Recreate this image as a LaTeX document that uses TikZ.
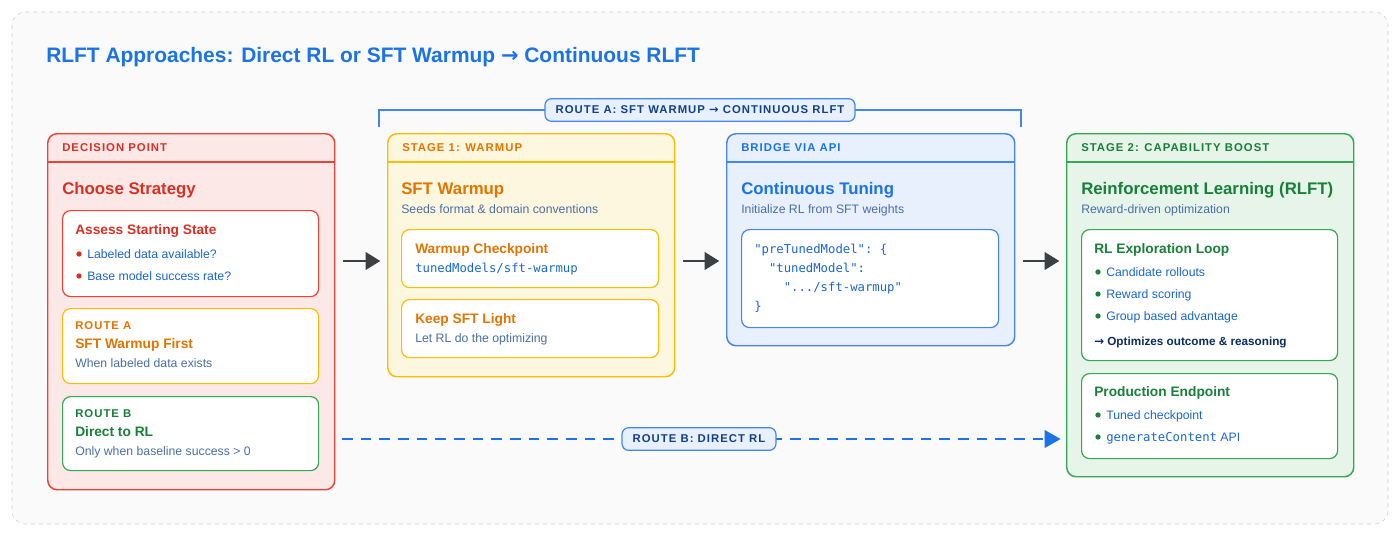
\documentclass[tikz,border=0pt]{standalone}
\usepackage{fontspec}
\setmainfont{Liberation Sans}
\setmonofont{DejaVu Sans Mono}
\newfontfamily\arwfont{DejaVu Sans}
\newcommand{\myarw}{{\arwfont →}}
\usetikzlibrary{arrows.meta}
\definecolor{cred}{HTML}{D93025}\definecolor{fred}{HTML}{FCE8E6}\definecolor{bred}{HTML}{EA4335}
\definecolor{corg}{HTML}{E37400}\definecolor{forg}{HTML}{FEF7E0}\definecolor{borg}{HTML}{FBBC04}
\definecolor{cblu}{HTML}{1A73E8}\definecolor{fblu}{HTML}{E8F0FE}\definecolor{bblu}{HTML}{4285F4}
\definecolor{cgrn}{HTML}{188038}\definecolor{fgrn}{HTML}{E6F4EA}\definecolor{bgrn}{HTML}{34A853}
\definecolor{body}{HTML}{1967D2}\definecolor{sub}{HTML}{4A6FA5}\definecolor{arr}{HTML}{3C4043}
\definecolor{navy}{HTML}{0D2B5E}
\begin{document}
\begin{tikzpicture}[x=0.75pt,y=-0.75pt,
  every node/.append style={inner sep=0pt},
  box/.style={draw=#1,line width=1.1pt,rounded corners=7pt,anchor=north west},
  inbox/.style={draw=#1,fill=white,line width=0.9pt,rounded corners=6pt,anchor=north west},
  hdr/.style={anchor=base west,text=#1,font=\fontsize{8.5}{10}\selectfont\bfseries\addfontfeatures{LetterSpace=9}},
  big/.style={anchor=base west,text=#1,font=\fontsize{12.6}{15}\selectfont\bfseries},
  ttl/.style={anchor=base west,text=#1,font=\fontsize{10.3}{12}\selectfont\bfseries},
  txt/.style={anchor=base west,text=#1,font=\fontsize{9.2}{11}\selectfont},
  mono/.style={anchor=base west,text=#1,font=\fontsize{9.2}{11}\ttfamily},
  flow/.style={-{Triangle[length=11pt,width=13pt]},line width=2pt,draw=arr},
  tag/.style={draw=bblu,fill=fblu,line width=0.9pt,rounded corners=5pt,text=navy!70!cblu,inner xsep=8pt,minimum height=17pt,font=\fontsize{8.5}{10}\selectfont\bfseries\addfontfeatures{LetterSpace=9}}]
\useasboundingbox (0,0) rectangle (1400,536);
\draw[draw=black!20,dashed,fill=black!2,rounded corners=10pt] (12,12) rectangle (1388,524);
\node[anchor=base west,text=cblu,font=\fontsize{15.7}{19}\selectfont\bfseries] (title) at (46,62) {RLFT Approaches: Direct RL or SFT Warmup \myarw{} Continuous RLFT};
% Decision
\node[box=bred,fill=fred,minimum width=287*0.75pt,minimum height=356*0.75pt] (dec) at (47,133) {};
\draw[bred,line width=0.9pt] (47,162) -- (334,162);
\node[hdr=cred] (dech) at (62,151) {DECISION POINT};
\node[big=cred] (dect) at (62,194) {Choose Strategy};
\node[inbox=bred,minimum width=256*0.75pt,minimum height=86*0.75pt] (ass) at (62,210) {};
\node[ttl=cred] (asst) at (75,234) {Assess Starting State};
\fill[cred] (79,254) circle (2pt); \node[txt=body] (a1) at (87,258) {Labeled data available?};
\fill[cred] (79,276) circle (2pt); \node[txt=body] (a2) at (87,280) {Base model success rate?};
\node[inbox=borg,minimum width=256*0.75pt,minimum height=75*0.75pt] (ra) at (62,308) {};
\node[hdr=corg] (rah) at (75,329) {ROUTE A};
\node[ttl=corg] (rat) at (75,348) {SFT Warmup First};
\node[txt=sub] (ras) at (75,367) {When labeled data exists};
\node[inbox=bgrn,minimum width=256*0.75pt,minimum height=74*0.75pt] (rb) at (62,396) {};
\node[hdr=cgrn] (rbh) at (75,417) {ROUTE B};
\node[ttl=cgrn] (rbt) at (75,436) {Direct to RL};
\node[txt=sub] (rbs) at (75,455) {Only when baseline success > 0};
% Stage 1
\node[box=borg,fill=forg,minimum width=287*0.75pt,minimum height=243*0.75pt] (s1) at (387,133) {};
\draw[borg,line width=0.9pt] (387,162) -- (674,162);
\node[hdr=corg] (s1h) at (402,151) {STAGE 1: WARMUP};
\node[big=corg] (s1t) at (401,194) {SFT Warmup};
\node[txt=sub] (s1s) at (401,213) {Seeds format \& domain conventions};
\node[inbox=borg,minimum width=257*0.75pt,minimum height=58*0.75pt] (wc) at (401,229) {};
\node[ttl=corg] (wct) at (415,253) {Warmup Checkpoint};
\node[mono=body] (wcc) at (415,272) {tunedModels/sft-warmup};
\node[inbox=borg,minimum width=257*0.75pt,minimum height=58*0.75pt] (ks) at (401,299) {};
\node[ttl=corg] (kst) at (415,323) {Keep SFT Light};
\node[txt=sub] (kss) at (415,342) {Let RL do the optimizing};
% Bridge
\node[box=bblu,fill=fblu,minimum width=288*0.75pt,minimum height=212*0.75pt] (br) at (726,133) {};
\draw[bblu,line width=0.9pt] (726,162) -- (1014,162);
\node[hdr=cblu] (brh) at (741,151) {BRIDGE VIA API};
\node[big=cblu] (brt) at (741,194) {Continuous Tuning};
\node[txt=sub] (brs) at (741,213) {Initialize RL from SFT weights};
\node[inbox=bblu,minimum width=257*0.75pt,minimum height=98*0.75pt] (code) at (741,229) {};
\node[mono=body] (c1) at (754,253) {"preTunedModel": \{};
\node[mono=body] (c2) at (754,272) {\ \ "tunedModel":};
\node[mono=body] (c3) at (754,291) {\ \ \ \ ".../sft-warmup"};
\node[mono=body] (c4) at (754,310) {\}};
% Stage 2
\node[box=bgrn,fill=fgrn,minimum width=287*0.75pt,minimum height=343*0.75pt] (s2) at (1066,133) {};
\draw[bgrn,line width=0.9pt] (1066,162) -- (1353,162);
\node[hdr=cgrn] (s2h) at (1081,151) {STAGE 2: CAPABILITY BOOST};
\node[big=cgrn] (s2t) at (1081,194) {Reinforcement Learning (RLFT)};
\node[txt=sub] (s2s) at (1081,213) {Reward-driven optimization};
\node[inbox=bgrn,minimum width=256*0.75pt,minimum height=131*0.75pt] (loop) at (1081,229) {};
\node[ttl=cgrn] (lt) at (1094,253) {RL Exploration Loop};
\fill[cgrn] (1098,272) circle (2pt); \node[txt=body] (l1) at (1106,276) {Candidate rollouts};
\fill[cgrn] (1098,294) circle (2pt); \node[txt=body] (l2) at (1106,298) {Reward scoring};
\fill[cgrn] (1098,316) circle (2pt); \node[txt=body] (l3) at (1106,320) {Group based advantage};
\node[anchor=base west,text=navy,font=\fontsize{8.8}{11}\selectfont\bfseries] (l4) at (1094,345) {\myarw{} Optimizes outcome \& reasoning};
\node[inbox=bgrn,minimum width=256*0.75pt,minimum height=85*0.75pt] (prod) at (1081,373) {};
\node[ttl=cgrn] (pt) at (1094,396) {Production Endpoint};
\fill[cgrn] (1098,415) circle (2pt); \node[txt=body] (p1) at (1106,419) {Tuned checkpoint};
\fill[cgrn] (1098,437) circle (2pt); \node[txt=body] (p2) at (1106,441) {\texttt{generateContent} API};
% arrows
\draw[flow] ([xshift=6pt,yshift=-96pt]dec.north east) -- ([xshift=-5pt,yshift=-96pt]s1.north west);
\draw[flow] ([xshift=6pt,yshift=-96pt]s1.north east) -- ([xshift=-5pt,yshift=-96pt]br.north west);
\draw[flow] ([xshift=6pt,yshift=-96pt]br.north east) -- ([xshift=-5pt,yshift=-96pt]s2.north west);
% route A bracket
\coordinate (ba) at (379,127); \coordinate (bb) at (1021,127);
\draw[bblu,line width=1.6pt] (ba) -- (379,110) -- (1021,110) -- (bb);
\node[tag] (taga) at (700,110) {ROUTE A: SFT WARMUP \myarw{} CONTINUOUS RLFT};
% route B
\coordinate (rbs0) at (342,439);
\draw[cblu,line width=2pt,dash pattern=on 8pt off 6pt] (rbs0) -- ([xshift=-12pt,yshift=-306*0.75pt]s2.north west);
\draw[cblu,-{Triangle[length=12pt,width=13pt]},line width=2pt] ([xshift=-14pt,yshift=-306*0.75pt]s2.north west) -- ([xshift=-4pt,yshift=-306*0.75pt]s2.north west);
\node[tag] (tagb) at (699,439) {ROUTE B: DIRECT RL};
\end{tikzpicture}
\end{document}
